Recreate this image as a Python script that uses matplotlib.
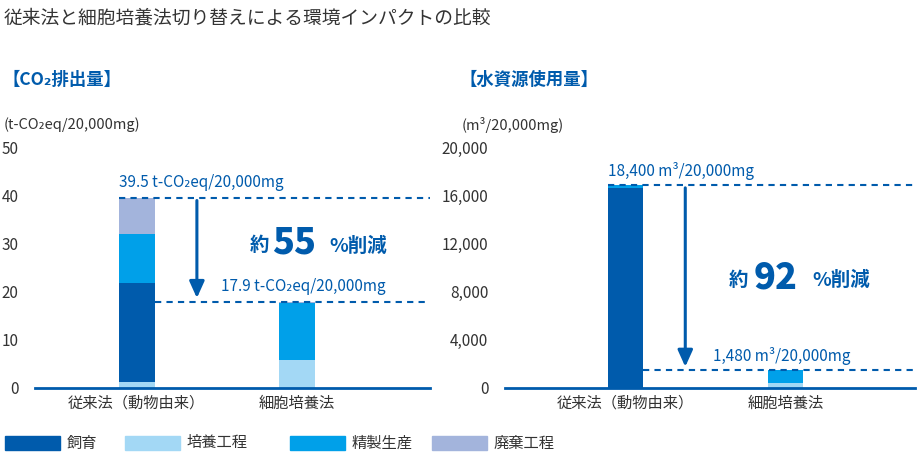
import matplotlib
matplotlib.use("Agg")
import matplotlib.pyplot as plt
from matplotlib.patches import Rectangle

plt.rcParams["font.family"] = ["Noto Sans CJK JP", "DejaVu Sans"]

categories = ["従来法（動物由来）", "細胞培養法"]
series = ["飼育", "培養工程", "精製生産", "廃棄工程"]
colors = {"飼育": "#005BAC", "培養工程": "#A3D8F5", "精製生産": "#00A0E9", "廃棄工程": "#A3B4DC"}
stack_order = ["培養工程", "飼育", "精製生産", "廃棄工程"]
co2 = {"培養工程": [1.2, 5.8], "飼育": [20.7, 0.0], "精製生産": [10.0, 11.8], "廃棄工程": [7.6, 0.3]}
co2_totals = [39.5, 17.9]
water = {"培養工程": [0, 400], "飼育": [16600, 0], "精製生産": [250, 1080], "廃棄工程": [0, 0]}
water_labels = ["18,400 m³/20,000mg", "1,480 m³/20,000mg"]
co2_ticks = [0, 10, 20, 30, 40, 50]
water_ticks = [0, 4000, 8000, 12000, 16000, 20000]

BLUE = "#005BAC"
GRAY = "#333333"
fig = plt.figure(figsize=(9.2, 4.57), dpi=100)

def setup(ax, ticks, xlim, fmt):
    ax.set_xlim(*xlim)
    ax.set_ylim(ticks[0], ticks[-1])
    ax.set_yticks(ticks)
    ax.set_yticklabels([fmt(t) for t in ticks], fontsize=11, color=GRAY)
    ax.set_xticks([0, 1])
    ax.set_xticklabels(categories, fontsize=11, color=GRAY)
    for s in ["top", "right", "left"]:
        ax.spines[s].set_visible(False)
    ax.spines["bottom"].set_color(BLUE)
    ax.spines["bottom"].set_linewidth(2)
    ax.tick_params(length=0, pad=5)
    ax.tick_params(axis="y", pad=12)

def stack(ax, data, width):
    bottoms = [0, 0]
    for s in stack_order:
        ax.bar([0, 1], data[s], width, bottom=bottoms, color=colors[s], linewidth=0)
        bottoms = [b + v for b, v in zip(bottoms, data[s])]
    return bottoms

# Left chart
ax1 = fig.add_axes([0.038, 0.151, 0.429, 0.527])
setup(ax1, co2_ticks, (-0.637, 1.832), lambda t: f"{t}")
w1 = 0.225
tops = stack(ax1, co2, w1)
ax1.plot([-w1/2, 1.832], [co2_totals[0]]*2, ls=(0, (3, 2.5)), color=BLUE, lw=1.5, clip_on=False)
ax1.plot([w1/2, 1.832], [co2_totals[1]]*2, ls=(0, (3, 2.5)), color=BLUE, lw=1.5, clip_on=False)
ax1.annotate("", xy=(0.376, co2_totals[1] + 0.2), xytext=(0.376, co2_totals[0]),
             arrowprops=dict(arrowstyle="-|>,head_width=0.45,head_length=1.0", color=BLUE, lw=2.2))
ax1.text(-w1/2, co2_totals[0] + 1.5, f"{co2_totals[0]} t-CO₂eq/20,000mg", color=BLUE, fontsize=11, va="bottom")
ax1.text(0.526, co2_totals[1] + 1.5, f"{co2_totals[1]} t-CO₂eq/20,000mg", color=BLUE, fontsize=11, va="bottom")
ax1.text(0.707, 29.5, "約", color=BLUE, fontsize=14, va="center", fontweight="bold")
ax1.text(0.844, 30.3, "55", color=BLUE, fontsize=26, va="center", fontweight="black")
ax1.text(1.207, 29.5, "%削減", color=BLUE, fontsize=14, va="center", fontweight="bold")

# Right chart
ax2 = fig.add_axes([0.549, 0.151, 0.446, 0.527])
setup(ax2, water_ticks, (-0.751, 1.813), lambda t: f"{t:,}")
w2 = 0.216
tops2 = stack(ax2, water, w2)
ax2.plot([-w2/2, 1.813], [tops2[0]]*2, ls=(0, (3, 2.5)), color=BLUE, lw=1.5, clip_on=False)
ax2.plot([w2/2, 1.813], [tops2[1]]*2, ls=(0, (3, 2.5)), color=BLUE, lw=1.5, clip_on=False)
ax2.annotate("", xy=(0.375, tops2[1] + 50), xytext=(0.375, tops2[0]),
             arrowprops=dict(arrowstyle="-|>,head_width=0.45,head_length=1.0", color=BLUE, lw=2.2))
ax2.text(-w2/2, tops2[0] + 450, water_labels[0], color=BLUE, fontsize=11, va="bottom")
ax2.text(0.55, tops2[1] + 450, water_labels[1], color=BLUE, fontsize=11, va="bottom")
ax2.text(0.644, 8900, "約", color=BLUE, fontsize=14, va="center", fontweight="bold")
ax2.text(0.80, 9150, "92", color=BLUE, fontsize=26, va="center", fontweight="black")
ax2.text(1.169, 8900, "%削減", color=BLUE, fontsize=14, va="center", fontweight="bold")

def ftext(xp, yp, s, **kw):
    fig.text(xp/920, 1 - yp/457, s, va="center", **kw)

ftext(4, 18, "従来法と細胞培養法切り替えによる環境インパクトの比較", fontsize=13.5, color=GRAY)
ftext(2, 80, "【CO₂排出量】", fontsize=12.5, color=BLUE, fontweight="bold")
ftext(460, 80, "【水資源使用量】", fontsize=12.5, color=BLUE, fontweight="bold")
ftext(4, 125, "(t-CO₂eq/20,000mg)", fontsize=10.5, color=GRAY)
ftext(462, 125, "(m³/20,000mg)", fontsize=10.5, color=GRAY)

legend_pos = [(5, "飼育"), (125, "培養工程"), (290, "精製生産"), (432, "廃棄工程")]
for xp, name in legend_pos:
    fig.patches.append(Rectangle((xp/920, 1 - 450/457), 55/920, 14/457,
                                 transform=fig.transFigure, color=colors[name]))
    ftext(xp + 62, 443, name, fontsize=11, color=GRAY)

fig.savefig("out.png", dpi=100)
